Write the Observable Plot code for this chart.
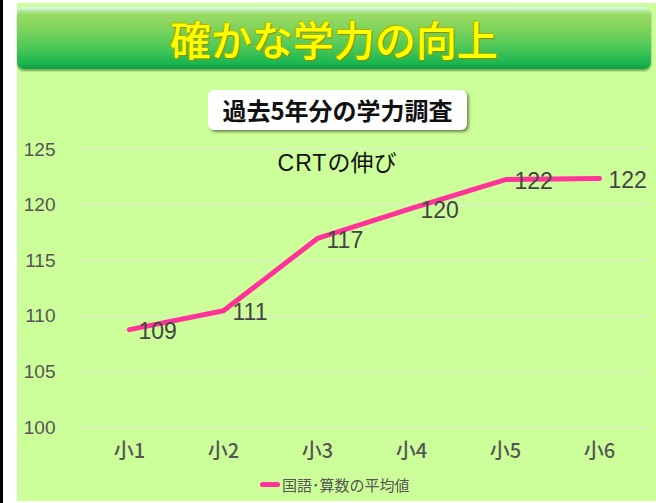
<!DOCTYPE html>
<html><head><meta charset="utf-8">
<script src="https://cdn.jsdelivr.net/npm/d3@7"></script>
<script src="https://cdn.jsdelivr.net/npm/@observablehq/plot@0.6"></script>
<style>
html,body{margin:0;padding:0;background:#fff;}
#page{position:relative;width:656px;height:503px;overflow:hidden;background:#fff;font-family:"Noto Sans CJK JP",sans-serif;}
#lborder{position:absolute;left:0;top:0;width:3px;height:503px;background:#000;}
#bg{position:absolute;left:17px;top:3px;width:639px;height:498px;background:#ccff99;}
#titlebar{position:absolute;left:17px;top:7px;width:634px;height:62px;border-radius:7px;
 background:linear-gradient(to bottom,#e6fff8 0%,#b8ecb0 5%,#9ada62 12%,#7ed45c 35%,#4cc858 65%,#18b550 92%,#139a40 100%);
 box-shadow:0 2px 2px rgba(0,70,0,0.45);}
#title{position:absolute;left:17px;top:7px;width:634px;height:62px;line-height:62px;text-align:center;
 font-size:41px;color:#ffff00;font-weight:500;
 text-shadow:0 0 1px #9a9a00,1px 1px 1px #8a8a00,-1px -1px 1px #b5b500;}
#subbox{position:absolute;left:208px;top:90px;width:259px;height:40px;border-radius:6px;background:#fff;
 box-shadow:2px 2px 3px rgba(0,0,0,0.45);text-align:center;line-height:40px;font-size:24px;font-weight:bold;color:#111;}
#crt{position:absolute;left:237px;top:145px;width:200px;text-align:center;font-size:23px;line-height:32px;color:#111;}
#crt .lat{font-family:"Liberation Sans",sans-serif;letter-spacing:1px;}
#legend{position:absolute;left:260px;top:474px;height:20px;display:flex;align-items:center;font-size:15px;color:#555;}
#legend .sw{width:20px;height:5px;border-radius:3px;background:#ff3399;margin-right:2px;}
#chart{position:absolute;left:0;top:0;}
</style></head>
<body>
<div id="page">
 <div id="lborder"></div>
 <div id="bg"></div>
 <div id="chart"></div>
 <div id="titlebar"></div>
 <div id="title">確かな学力の向上</div>
 <div id="subbox">過去5年分の学力調査</div>
 <div id="crt"><span class="lat">CRT</span>の伸び</div>
 <div id="legend"><div class="sw"></div><span>国語･算数の平均値</span></div>
</div>
<script>
const grades = ["小1","小2","小3","小4","小5","小6"];
const values = [108.8, 110.5, 117.0, 119.7, 122.3, 122.4];
const valueLabels = ["109","111","117","120","122","122"];
const yTicks = [100,105,110,115,120,125];

const data = grades.map((g,i)=>({grade:g, value:values[i], label:valueLabels[i]}));
const NUMFONT = "Liberation Sans, Arial, sans-serif";

const chart = Plot.plot({
  width:656, height:503,
  marginLeft:80, marginRight:9, marginTop:149, marginBottom:76,
  style:{background:"transparent", color:"#555"},
  x:{type:"point", domain:grades, padding:0.5},
  y:{domain:[100,125], ticks:yTicks},
  marks:[
    Plot.ruleY(yTicks, {stroke:"#e2e6da", strokeWidth:1}),
    Plot.axisY({ticks:yTicks, tickSize:0, tickPadding:25, fontSize:19, fill:"#555", label:null, fontFamily:NUMFONT}),
    Plot.axisX({tickSize:0, tickPadding:16, fontSize:20, fill:"#555", fontWeight:500, label:null, fontFamily:"Noto Sans CJK JP, sans-serif"}),
    Plot.lineY(data, {x:"grade", y:"value", stroke:"#ff3399", strokeWidth:5, strokeLinejoin:"round", strokeLinecap:"round"}),
    Plot.text(data, {x:"grade", y:"value", text:"label", textAnchor:"start", dx:9, dy:2, fontSize:23, fill:"#444", fontFamily:NUMFONT})
  ]
});
document.getElementById("chart").appendChild(chart);
</script>
</body></html>
